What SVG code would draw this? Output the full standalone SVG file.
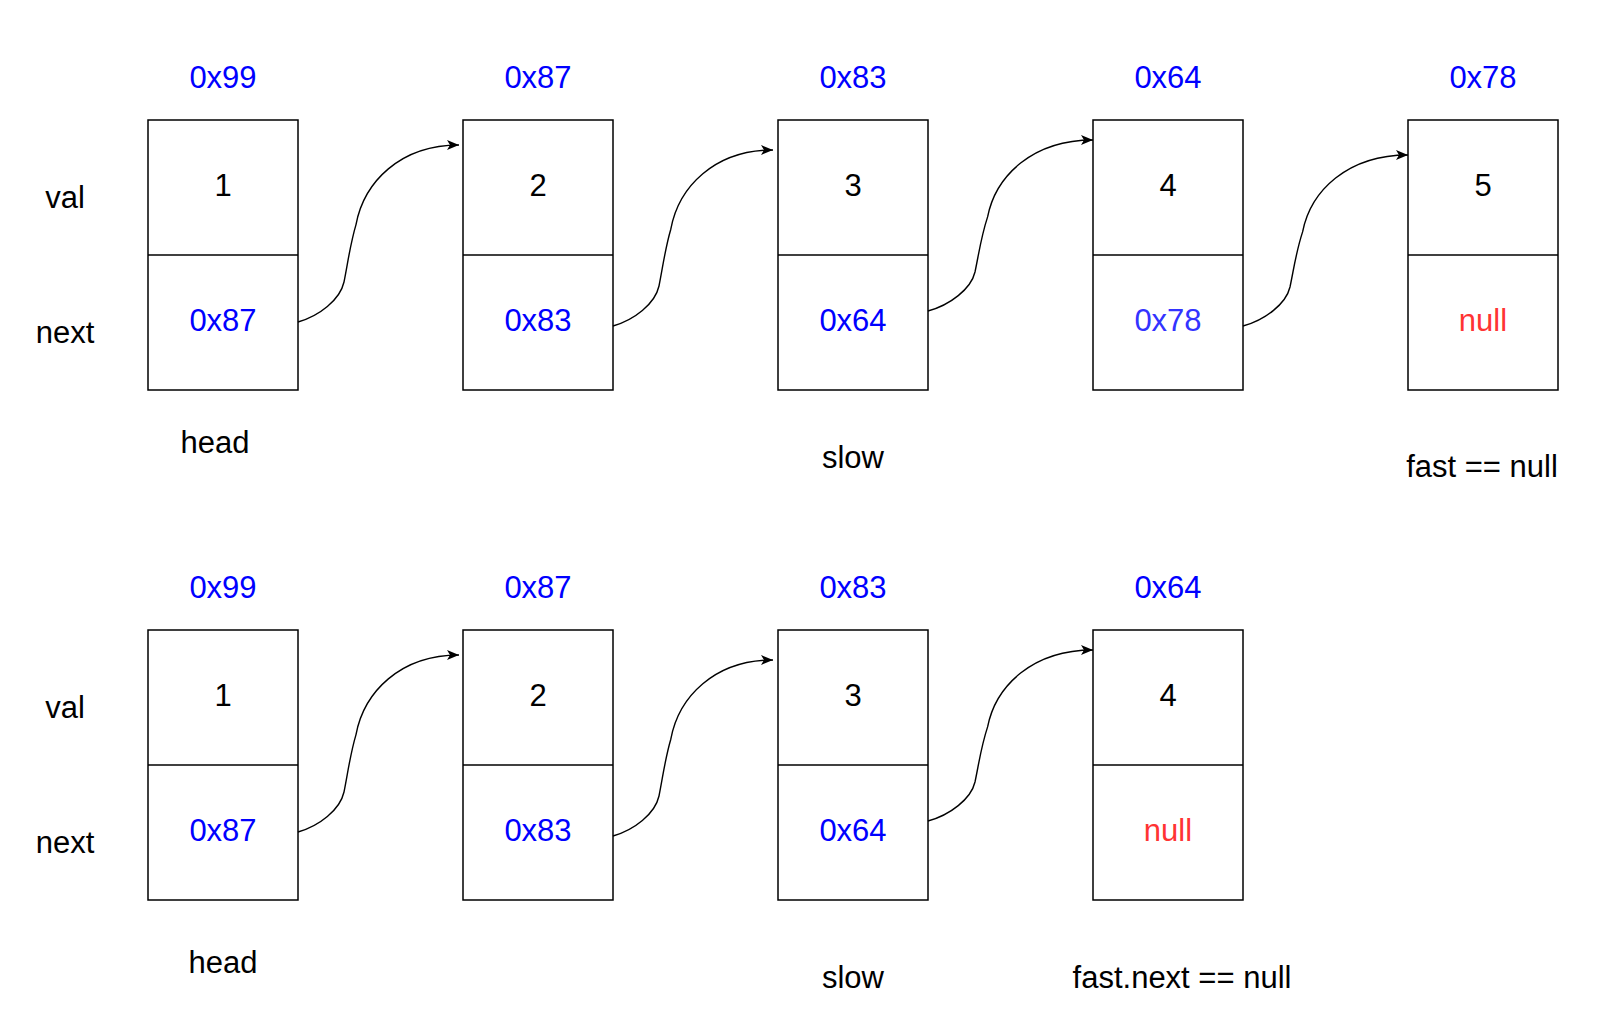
<svg xmlns="http://www.w3.org/2000/svg" width="1624" height="1010" viewBox="0 0 1624 1010">
<style>
text{font-family:"Liberation Sans",Arial,sans-serif;font-size:31px;text-anchor:middle}
.b{fill:#0000ff}
.b2{fill:#3333ff}
.r{fill:#ff3333}
.k{fill:#000}
.box{fill:#fff;stroke:#000;stroke-width:1.5}
.div{stroke:#000;stroke-width:1.5}
.edge{fill:none;stroke:#000;stroke-width:1.4}
</style>
<defs>
<marker id="arr" viewBox="0 0 12 10" refX="12" refY="5" markerWidth="12" markerHeight="10" markerUnits="userSpaceOnUse" orient="auto">
<path d="M0,0 L12,5 L0,10 L3,5 Z" fill="#000"/>
</marker>
</defs>
<rect width="1624" height="1010" fill="#fff"/>

<g id="row-labels">
<text class="k" x="65" y="208">val</text>
<text class="k" x="65" y="343">next</text>
<text class="k" x="65" y="718">val</text>
<text class="k" x="65" y="853">next</text>
</g>

<g id="t1">
<text class="b" x="223" y="88">0x99</text>
<rect class="box" x="148" y="120" width="150" height="270"/>
<line class="div" x1="148" y1="255" x2="298" y2="255"/>
<text class="k" x="223" y="196">1</text>
<text class="b" x="223" y="331">0x87</text>
</g>
<g id="t2">
<text class="b" x="538" y="88">0x87</text>
<rect class="box" x="463" y="120" width="150" height="270"/>
<line class="div" x1="463" y1="255" x2="613" y2="255"/>
<text class="k" x="538" y="196">2</text>
<text class="b" x="538" y="331">0x83</text>
</g>
<g id="t3">
<text class="b" x="853" y="88">0x83</text>
<rect class="box" x="778" y="120" width="150" height="270"/>
<line class="div" x1="778" y1="255" x2="928" y2="255"/>
<text class="k" x="853" y="196">3</text>
<text class="b" x="853" y="331">0x64</text>
</g>
<g id="t4">
<text class="b" x="1168" y="88">0x64</text>
<rect class="box" x="1093" y="120" width="150" height="270"/>
<line class="div" x1="1093" y1="255" x2="1243" y2="255"/>
<text class="k" x="1168" y="196">4</text>
<text class="b2" x="1168" y="331">0x78</text>
</g>
<g id="t5">
<text class="b" x="1483" y="88">0x78</text>
<rect class="box" x="1408" y="120" width="150" height="270"/>
<line class="div" x1="1408" y1="255" x2="1558" y2="255"/>
<text class="k" x="1483" y="196">5</text>
<text class="r" x="1483" y="331">null</text>
</g>
<g id="top-pointers">
<text class="k" x="215" y="453">head</text>
<text class="k" x="853" y="468">slow</text>
<text class="k" x="1482" y="477">fast == null</text>
</g>

<g id="b1">
<text class="b" x="223" y="598">0x99</text>
<rect class="box" x="148" y="630" width="150" height="270"/>
<line class="div" x1="148" y1="765" x2="298" y2="765"/>
<text class="k" x="223" y="706">1</text>
<text class="b" x="223" y="841">0x87</text>
</g>
<g id="b2">
<text class="b" x="538" y="598">0x87</text>
<rect class="box" x="463" y="630" width="150" height="270"/>
<line class="div" x1="463" y1="765" x2="613" y2="765"/>
<text class="k" x="538" y="706">2</text>
<text class="b" x="538" y="841">0x83</text>
</g>
<g id="b3">
<text class="b" x="853" y="598">0x83</text>
<rect class="box" x="778" y="630" width="150" height="270"/>
<line class="div" x1="778" y1="765" x2="928" y2="765"/>
<text class="k" x="853" y="706">3</text>
<text class="b" x="853" y="841">0x64</text>
</g>
<g id="b4">
<text class="b" x="1168" y="598">0x64</text>
<rect class="box" x="1093" y="630" width="150" height="270"/>
<line class="div" x1="1093" y1="765" x2="1243" y2="765"/>
<text class="k" x="1168" y="706">4</text>
<text class="r" x="1168" y="841">null</text>
</g>
<g id="bottom-pointers">
<text class="k" x="223" y="973">head</text>
<text class="k" x="853" y="988">slow</text>
<text class="k" x="1182" y="988">fast.next == null</text>
</g>

<g id="connectors">
<path class="edge" marker-end="url(#arr)" d="M298,322 C319,316 340,300 344,282 C348,262 350,245 356,224.6 C364,182.2 399.9,145 459,145"/>
<path class="edge" marker-end="url(#arr)" d="M613,326 C634,320 655,304 659,286 C663,266 665,249 670.8,229.2 C678.6,187 714.3,150 773,150"/>
<path class="edge" marker-end="url(#arr)" d="M928,311 C950,305 971,289 975,272 C979,253 981,237 987.6,216.9 C995.7,175.9 1032.4,140 1093,140"/>
<path class="edge" marker-end="url(#arr)" d="M1243,326 C1265,320 1286,304 1290,287 C1294,268 1296,252 1302.6,231.9 C1310.7,190.9 1347.4,155 1408,155"/>
<path class="edge" marker-end="url(#arr)" d="M298,832 C319,826 340,810 344,792 C348,772 350,755 356,734.6 C364,692.2 399.9,655 459,655"/>
<path class="edge" marker-end="url(#arr)" d="M613,836 C634,830 655,814 659,796 C663,776 665,759 670.8,739.2 C678.6,697 714.3,660 773,660"/>
<path class="edge" marker-end="url(#arr)" d="M928,821 C950,815 971,799 975,782 C979,763 981,747 987.6,726.9 C995.7,685.9 1032.4,650 1093,650"/>
</g>
</svg>
